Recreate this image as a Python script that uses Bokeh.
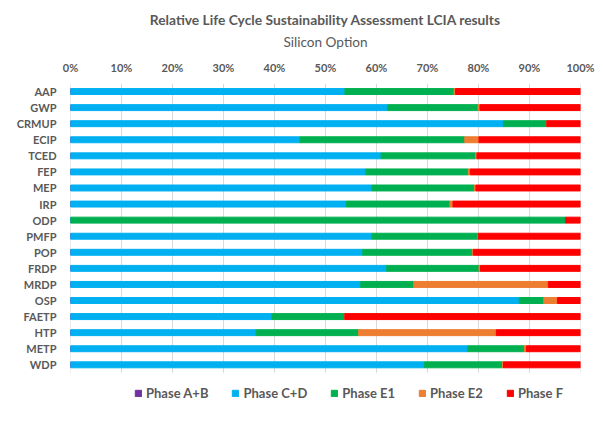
from bokeh.plotting import figure
from bokeh.models import ColumnDataSource, Range1d, FixedTicker, Title, Legend, LegendItem
from bokeh.embed import file_html
from bokeh.resources import INLINE

categories = ["AAP", "GWP", "CRMUP", "ECIP", "TCED", "FEP", "MEP", "IRP", "ODP",
              "PMFP", "POP", "FRDP", "MRDP", "OSP", "FAETP", "HTP", "METP", "WDP"]
phase_ab = [0.0] * 18
phase_cd = [53.8, 62.2, 84.9, 45.0, 60.9, 57.9, 59.1, 54.1, 0.0,
            59.1, 57.3, 62.0, 56.9, 88.0, 39.5, 36.4, 77.9, 69.4]
phase_e1 = [21.4, 17.7, 8.5, 32.3, 18.5, 20.1, 20.1, 20.3, 97.1,
            20.8, 21.5, 18.1, 10.4, 4.8, 14.3, 20.1, 11.1, 15.3]
phase_e2 = [0.3, 0.4, 0.0, 2.8, 0.3, 0.4, 0.3, 0.6, 0.0,
            0.1, 0.2, 0.3, 26.4, 2.7, 0.0, 27.0, 0.4, 0.2]
phase_f = [24.5, 19.7, 6.6, 19.9, 20.3, 21.6, 20.5, 25.0, 2.9,
           20.0, 21.0, 19.6, 6.3, 4.5, 46.2, 16.5, 10.6, 15.1]
series_names = ["Phase A+B", "Phase C+D", "Phase E1", "Phase E2", "Phase F"]
series_colors = ["#7030A0", "#00B0F0", "#00B050", "#ED7D31", "#FF0000"]
x_ticks = [0, 10, 20, 30, 40, 50, 60, 70, 80, 90, 100]
x_tick_labels = ["0%", "10%", "20%", "30%", "40%", "50%", "60%", "70%", "80%", "90%", "100%"]

n = len(categories)
ypos = [n - 1 - i for i in range(n)]  # first category at the top
keys = ["ab", "cd", "e1", "e2", "f"]
source = ColumnDataSource(dict(y=ypos, cat=categories, ab=phase_ab, cd=phase_cd,
                               e1=phase_e1, e2=phase_e2, f=phase_f))

FONT = "Lato"
GREY = "#595959"
LINE = "#d9d9d9"

# frame spans 83..420 px; category band is 16.06 px per unit, legend area below
top = n - 0.5
bottom = -0.5 - (420 - 372.4) / 16.06

p = figure(width=595, height=430, output_backend="svg", toolbar_location=None,
           y_range=Range1d(bottom, top), x_range=Range1d(0, 100), x_axis_location="above",
           min_border_left=70, min_border_right=15, min_border_bottom=10, min_border_top=83)
p.outline_line_color = None
p.xgrid.grid_line_color = None
p.ygrid.grid_line_color = None

# vertical gridlines (incl. category axis line at 0%) limited to the category band
p.segment(x0=x_ticks, x1=x_ticks, y0=[-0.5] * len(x_ticks), y1=[top] * len(x_ticks),
          line_color=LINE, line_width=1)

renderers = p.hbar_stack(keys, y="y", height=0.37, color=series_colors, source=source)

items = [LegendItem(label=nm, renderers=[r]) for nm, r in zip(series_names, renderers)]
legend = Legend(items=items, orientation="horizontal", location=(64, 19),
                glyph_width=8, glyph_height=8, label_standoff=4, spacing=23,
                label_text_font=FONT, label_text_font_style="bold",
                label_text_font_size="13px", label_text_color=GREY,
                border_line_color=None, background_fill_alpha=0,
                padding=2, margin=0)
p.add_layout(legend, "center")

xa = p.xaxis[0]
xa.ticker = FixedTicker(ticks=x_ticks)
xa.major_label_overrides = {t: l for t, l in zip(x_ticks, x_tick_labels)}
xa.axis_line_color = None
xa.major_tick_line_color = None
xa.minor_tick_line_color = None
xa.major_label_text_font = FONT
xa.major_label_text_font_style = "bold"
xa.major_label_text_font_size = "11px"
xa.major_label_text_color = GREY
xa.major_label_standoff = 4

ya = p.yaxis[0]
ya.ticker = FixedTicker(ticks=ypos)
ya.major_label_overrides = {y: c for y, c in zip(ypos, categories)}
ya.axis_line_color = None
ya.major_tick_line_color = None
ya.minor_tick_line_color = None
ya.major_label_text_font = FONT
ya.major_label_text_font_style = "bold"
ya.major_label_text_font_size = "11px"
ya.major_label_text_color = GREY
ya.major_label_standoff = 8

p.add_layout(Title(text="Silicon Option", align="center", offset=-25,
                   text_font=FONT, text_font_style="normal", text_font_size="13.6px",
                   text_color=GREY, standoff=16), "above")
p.add_layout(Title(text="Relative Life Cycle Sustainability Assessment LCIA results",
                   align="center", offset=-25, text_font=FONT, text_font_style="bold",
                   text_font_size="13.8px", text_color=GREY, standoff=-9), "above")

open("out.html", "w").write(file_html(p, INLINE))
